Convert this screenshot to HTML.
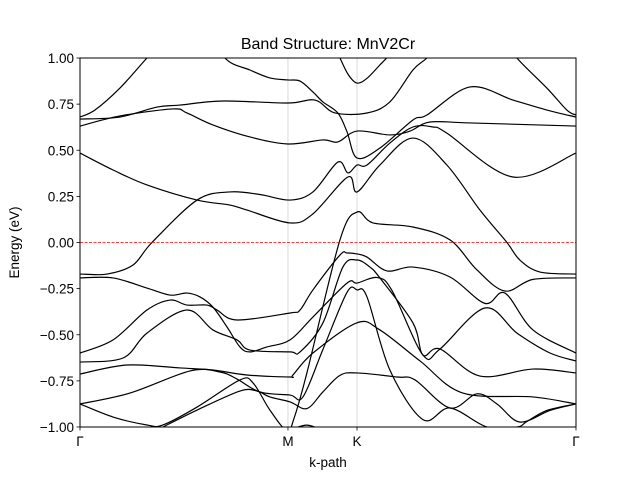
<!DOCTYPE html>
<html><head><meta charset="utf-8"><style>
html,body{margin:0;padding:0;background:#fff;}
svg{display:block;font-family:"Liberation Sans","DejaVu Sans",sans-serif;}
</style></head><body>
<svg id="chart" width="640" height="480" viewBox="0 0 640 480" xmlns="http://www.w3.org/2000/svg">
<rect x="0" y="0" width="640" height="480" fill="#fff"/>
<defs><clipPath id="clip"><rect x="80" y="58" width="496" height="369"/></clipPath></defs>
<text x="328" y="49" text-anchor="middle" font-size="16" fill="#000">Band Structure: MnV2Cr</text>
<g id="grid"></g>
<g id="bands" clip-path="url(#clip)"></g>
<rect x="80" y="58" width="496" height="369" fill="none" stroke="#000" stroke-width="1"/>
<g id="ticks"></g>
<text x="328" y="467" text-anchor="middle" font-size="13.5" fill="#000">k-path</text>
<text transform="translate(19,242.5) rotate(-90)" text-anchor="middle" font-size="13.5" fill="#000">Energy (eV)</text>
</svg>
<script>
const kLabels = ["Γ","M","K","Γ"];
const kPoints = [0, 1.0, 1.332, 2.385];
const yTicks = [1.0, 0.75, 0.5, 0.25, 0.0, -0.25, -0.5, -0.75, -1.0];
const yTickLabels = ["1.00","0.75","0.50","0.25","0.00","−0.25","−0.50","−0.75","−1.00"];
const fermiLevel = 0;
const band1 = [[0,.680],[.072,.718],[.192,.837],[.322,1.0],[.385,1.07],[.5,1.2]];
const band2 = [[.6,1.2],[.697,1.0],[.817,.935],[.913,.892],[1,.881],[1.058,.875],[1.12,.816],[1.168,.762],[1.24,.702],[1.284,.60],[1.332,.458],[1.442,.512],[1.601,.664],[1.668,.691],[1.875,.843],[2.082,.772],[2.245,.718],[2.385,.680]];
const band3 = [[0,.669],[.192,.680],[.370,.734],[.481,.745],[.688,.767],[1,.756],[1.13,.772],[1.226,.702],[1.38,.702],[1.49,.762],[1.601,.935],[1.668,1.0],[1.75,1.1]];
const band4 = [[0,.631],[.192,.686],[.447,.724],[.514,.702],[.639,.637],[.817,.572],[1,.534],[1.168,.556],[1.24,.545],[1.332,.604],[1.49,.583],[1.587,.604],[1.683,.653],[1.875,.648],[2.385,.631]];
const band5 = [[0,.485],[.159,.393],[.322,.312],[.563,.230],[.721,.203],[.803,.176],[1.01,.106],[1.12,.155],[1.288,.355],[1.332,.274],[1.442,.420],[1.601,.566],[1.764,.420],[1.923,.176],[2.053,0],[2.115,-.095],[2.212,-.160],[2.385,-.171]];
const band6 = [[0,-.171],[.130,-.171],[.255,-.122],[.346,0],[.563,.230],[.721,.274],[.865,.260],[1.01,.230],[1.12,.274],[1.24,.436],[1.288,.377],[1.332,.420],[1.38,.420],[1.49,.539],[1.601,.626],[1.697,.626],[1.764,.593],[2.082,.355],[2.385,.485]];
const band7 = [[1.20,1.12],[1.25,1.0],[1.29,.91],[1.332,.864],[1.38,.89],[1.44,.96],[1.49,1.02],[1.54,1.1]];
const band8 = [[2.05,1.1],[2.101,1.0],[2.245,.837],[2.341,.718],[2.385,.691]];
const band9 = [[0,-.875],[.159,-.946],[.322,-.989],[.399,-.989],[.563,-.892],[.769,-.745],[.832,-.761],[.913,-.908],[.995,-1.02],[1.03,-.95],[1.091,-.707],[1.25,.014],[1.332,.165],[1.409,.106],[1.601,.084],[1.779,.014],[1.909,-.149],[2.043,-.263],[2.178,-.200],[2.385,-.192]];
const band10 = [[0,-.192],[.159,-.192],[.322,-.247],[.433,-.285],[.514,-.274],[.577,-.295],[.639,-.350],[.707,-.458],[.769,-.566],[.817,-.593],[.899,-.566],[1.01,-.528],[1.12,-.404],[1.284,-.220],[1.332,-.220],[1.43,-.19],[1.50,-.26],[1.649,-.610],[1.731,-.577],[1.947,-.355],[2.101,-.491],[2.26,-.599],[2.385,-.642]];
const band11 = [[0,-.599],[.159,-.528],[.322,-.366],[.433,-.312],[.514,-.339],[.611,-.339],[.659,-.366],[.755,-.420],[1.01,-.382],[1.058,-.366],[1.12,-.257],[1.25,-.068],[1.284,-.057],[1.332,-.062],[1.38,-.079],[1.476,-.154],[1.601,-.133],[1.779,-.187],[1.947,-.33],[2.043,-.274],[2.178,-.474],[2.385,-.599]];
const band12 = [[0,-.648],[.207,-.626],[.322,-.491],[.514,-.366],[.639,-.474],[.755,-.528],[.817,-.583],[1.01,-.593],[1.058,-.593],[1.168,-.436],[1.264,-.133],[1.332,-.095],[1.394,-.133],[1.442,-.192],[1.601,-.436],[1.649,-.610],[1.731,-.577],[1.923,-.724],[2.178,-.686],[2.385,-.707]];
const band13 = [[0,-.713],[.226,-.664],[.481,-.680],[.639,-.691],[.803,-.718],[1.01,-.729],[1.024,-.718],[1.12,-.599],[1.332,-.435],[1.442,-.474],[1.635,-.642],[1.841,-.816],[2.178,-.837],[2.385,-.875]];
const band14 = [[0,-.875],[.240,-.816],[.529,-.696],[.673,-.702],[.755,-.740],[.865,-.810],[1.01,-.827],[1.072,-.837],[1.168,-.58],[1.284,-.27],[1.332,-.257],[1.38,-.295],[1.49,-.691],[1.649,-.96],[1.779,-.897],[1.957,-1.0],[2.101,-1.0],[2.149,-.97],[2.245,-.91],[2.385,-.875]];
const band15 = [[.399,-1.0],[.563,-.908],[.769,-.805],[.851,-.805],[.913,-.837],[1.01,-.864],[1.091,-.9],[1.168,-.81],[1.25,-.72],[1.332,-.707],[1.524,-.729],[1.611,-.745],[1.779,-.897],[1.909,-.82],[2.005,-.875],[2.115,-.973],[2.26,-.91],[2.385,-.875]];
const band16 = [[1.0,-1.02],[1.09,-.99],[1.17,-1.02]];
const bands = [band1,band2,band3,band4,band5,band6,band7,band8,band9,band10,band11,band12,band13,band14,band15,band16];

const X0=80, X1=576, Y0=58, Y1=427, EMIN=-1, EMAX=1;
const kMax = kPoints[kPoints.length-1];
function xs(k){return X0 + (k/kMax)*(X1-X0);}
function ys(e){return Y1 - (e-EMIN)/(EMAX-EMIN)*(Y1-Y0);}
const NS="http://www.w3.org/2000/svg";
function mk(tag, attrs, parent){const el=document.createElementNS(NS,tag);for(const a in attrs)el.setAttribute(a,attrs[a]);parent.appendChild(el);return el;}
const grid=document.getElementById('grid'), bandsG=document.getElementById('bands'), ticks=document.getElementById('ticks');
kPoints.forEach((k,i)=>{
  if(i>0 && i<kPoints.length-1){
    const gl=mk('line',{x1:xs(k),x2:xs(k),y1:Y0,y2:Y1,stroke:'#d0d0d0','stroke-width':0.8},grid);
    
    
  }
  const tl=mk('line',{x1:xs(k),x2:xs(k),y1:Y1,y2:Y1+3.5,stroke:'#000','stroke-width':0.8},ticks);
  
  
  const tx=mk('text',{x:xs(k),y:Y1+19,'text-anchor':'middle','font-size':13.5,fill:'#000'},ticks);
  tx.textContent=kLabels[i];
  
  
});
yTicks.forEach((v,i)=>{
  const tl=mk('line',{x1:X0-3.5,x2:X0,y1:ys(v),y2:ys(v),stroke:'#000','stroke-width':0.8},ticks);
  
  
  const tx=mk('text',{x:X0-6,y:ys(v)+5,'text-anchor':'end','font-size':13.5,fill:'#000'},ticks);
  tx.textContent=yTickLabels[i];
  
  
});
function pathFor(pts){
  const p=pts.map(q=>[xs(q[0]),ys(q[1])]);
  let d='M'+p[0][0].toFixed(2)+','+p[0][1].toFixed(2);
  for(let i=0;i<p.length-1;i++){
    const a=p[Math.max(0,i-1)], b=p[i], c=p[i+1], e=p[Math.min(p.length-1,i+2)];
    const c1x=b[0]+(c[0]-a[0])/6, c1y=b[1]+(c[1]-a[1])/6;
    const c2x=c[0]-(e[0]-b[0])/6, c2y=c[1]-(e[1]-b[1])/6;
    d+=' C'+c1x.toFixed(2)+','+c1y.toFixed(2)+' '+c2x.toFixed(2)+','+c2y.toFixed(2)+' '+c[0].toFixed(2)+','+c[1].toFixed(2);
  }
  return d;
}
bands.forEach((b,i)=>{
  const el=mk('path',{d:pathFor(b),fill:'none',stroke:'#000','stroke-width':1.2,'stroke-linejoin':'round'},bandsG);
  
  
});
const fl=mk('line',{x1:X0,x2:X1,y1:ys(fermiLevel),y2:ys(fermiLevel),stroke:'#ff0000','stroke-width':0.8,'stroke-dasharray':'3,1.5'},bandsG);


</script>
</body></html>
